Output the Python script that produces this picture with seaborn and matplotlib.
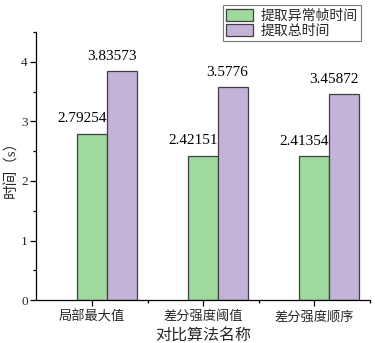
import matplotlib
matplotlib.use("Agg")
import matplotlib.pyplot as plt
import seaborn as sns
import pandas as pd
from matplotlib.ticker import MultipleLocator, FixedLocator

categories = ["局部最大值", "差分强度阈值", "差分强度顺序"]
series_names = ["提取异常帧时间", "提取总时间"]
abnormal_time = [2.79254, 2.42151, 2.41354]
total_time = [3.83573, 3.5776, 3.45872]
label_text_abn = ["2.79254", "2.42151", "2.41354"]
label_text_tot = ["3.83573", "3.5776", "3.45872"]

df = pd.DataFrame({
    "cat": categories * 2,
    "series": [series_names[0]] * 3 + [series_names[1]] * 3,
    "value": abnormal_time + total_time,
})

sns.set_theme(style="white")
plt.rcParams["font.family"] = ["Liberation Serif", "Noto Sans CJK SC"]

fig = plt.figure(figsize=(3.75, 3.43), dpi=100)
ax = fig.add_axes([0.096, 0.125, 0.891, 0.782])

colors = ["#9fd99d", "#c3b3d8"]
sns.barplot(data=df, x="cat", y="value", hue="series", palette=colors,
            width=0.54, edgecolor="#404040", linewidth=0.9, ax=ax,
            saturation=1, legend=True)

for cont, labels in zip(ax.containers, [label_text_abn, label_text_tot]):
    for bar, lab in zip(cont, labels):
        ax.annotate(lab, xy=(bar.get_x() + bar.get_width(), bar.get_height()),
                    xytext=(0, 6), textcoords="offset points",
                    ha="right", va="bottom", fontsize=11, color="black")

# ticks sit at the centre of the first bar of each group (as in the original)
green_centres = [b.get_x() + b.get_width() / 2 for b in ax.containers[0]]
ax.set_xticks(green_centres)
ax.set_xticklabels(categories)
ax.xaxis.set_minor_locator(FixedLocator([c + 0.5 for c in green_centres]))

ax.set_ylim(0, 4.5)
ax.set_xlim(-0.64, 2.37)
ax.spines["top"].set_visible(False)
ax.spines["right"].set_visible(False)
for s in ["left", "bottom"]:
    ax.spines[s].set_color("black")
    ax.spines[s].set_linewidth(0.9)

ax.yaxis.set_major_locator(MultipleLocator(1))
ax.yaxis.set_minor_locator(MultipleLocator(0.5))
ax.tick_params(axis="both", which="major", direction="out", length=4, width=0.9,
               color="black", labelsize=9.5, bottom=True, left=True)
ax.tick_params(axis="both", which="minor", direction="out", length=2, width=0.9,
               color="black", bottom=True, left=True)
ax.tick_params(axis="y", pad=2)

ax.set_xlabel("对比算法名称", fontsize=11.5, labelpad=3)
ax.set_ylabel("时间（s）", fontsize=10.5, labelpad=2)

leg = ax.get_legend()
leg.remove()
handles, labels = ax.get_legend_handles_labels()
legend = fig.legend(handles, labels, loc="upper right", bbox_to_anchor=(0.962, 0.985),
                    fontsize=10, frameon=True, fancybox=False, edgecolor="#555555",
                    borderpad=0.25, labelspacing=0.1, handlelength=1.95, handleheight=1.0,
                    handletextpad=0.5, borderaxespad=0)
legend.get_frame().set_linewidth(0.8)

fig.savefig("out.png", dpi=100)
